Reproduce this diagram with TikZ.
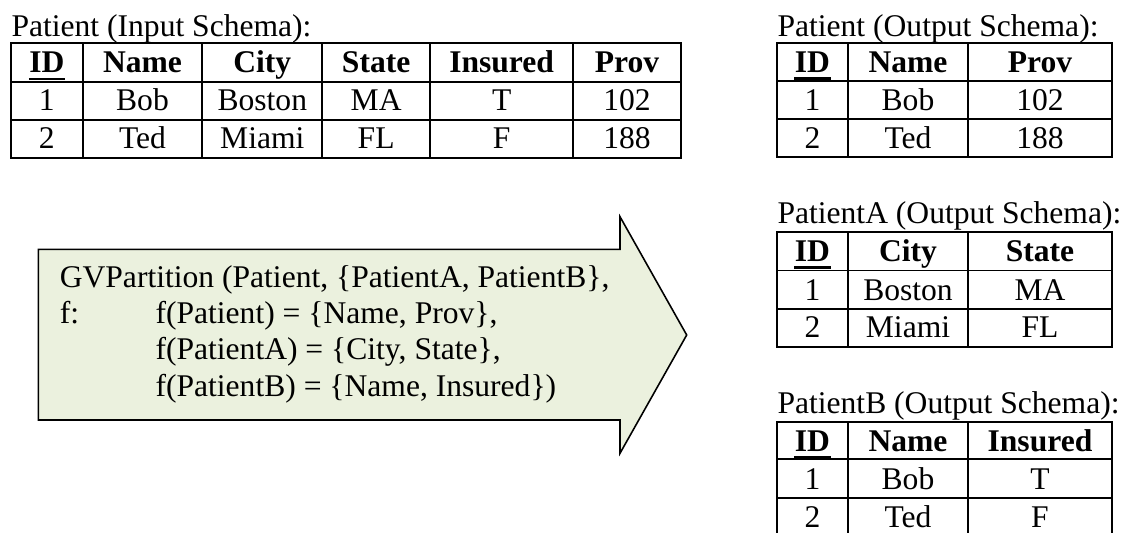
\documentclass[tikz,border=0pt]{standalone}
\usepackage{fontspec}
\setmainfont{Liberation Serif}
\definecolor{boxgreen}{RGB}{235,241,222}
\tikzset{
  tbl/.style={line width=0.75pt},
  cell/.style={anchor=base, inner sep=0pt, font=\fontsize{12}{14}\selectfont},
  head/.style={cell, font=\fontsize{12}{14}\selectfont\bfseries},
  caption/.style={anchor=base west, inner sep=0pt, font=\fontsize{12}{14}\selectfont},
  keyline/.style={line width=1.1pt},
  arrowbox/.style={draw, fill=boxgreen, line width=0.6pt, line join=miter}
}
\begin{document}
\begin{tikzpicture}[x=0.38pt, y=-0.38pt]
  \useasboundingbox (0,0) rectangle (1134,532);
  \node[caption] (inT) at (11,36) {Patient (Input Schema):};
  \draw[tbl] (11,43.3) rectangle (680.7,157.7);
  \draw[tbl] (11,81.7) -- (680.7,81.7);
  \draw[tbl] (11,120) -- (680.7,120);
  \draw[tbl] (82.7,43.3) -- (82.7,157.7);
  \draw[tbl] (202.3,43.3) -- (202.3,157.7);
  \draw[tbl] (322.3,43.3) -- (322.3,157.7);
  \draw[tbl] (430,43.3) -- (430,157.7);
  \draw[tbl] (573.3,43.3) -- (573.3,157.7);
  \node[head] (inH1) at (46.85,72.7) {ID};
  \node[head] (inH2) at (142.5,72.7) {Name};
  \node[head] (inH3) at (262.3,72.7) {City};
  \node[head] (inH4) at (376.15,72.7) {State};
  \node[head] (inH5) at (501.65,72.7) {Insured};
  \node[head] (inH6) at (627,72.7) {Prov};
  \draw[keyline] ([yshift=-2.4pt]inH1.base west) -- ([yshift=-2.4pt]inH1.base east);
  \node[cell] (in11) at (46.85,110) {1};
  \node[cell] (in12) at (142.5,110) {Bob};
  \node[cell] (in13) at (262.3,110) {Boston};
  \node[cell] (in14) at (376.15,110) {MA};
  \node[cell] (in15) at (501.65,110) {T};
  \node[cell] (in16) at (627,110) {102};
  \node[cell] (in21) at (46.85,148) {2};
  \node[cell] (in22) at (142.5,148) {Ted};
  \node[cell] (in23) at (262.3,148) {Miami};
  \node[cell] (in24) at (376.15,148) {FL};
  \node[cell] (in25) at (501.65,148) {F};
  \node[cell] (in26) at (627,148) {188};

  \node[caption] (outT) at (777,36) {Patient (Output Schema):};
  \draw[tbl] (777,43.3) rectangle (1111.7,157.3);
  \draw[tbl] (777,81) -- (1111.7,81);
  \draw[tbl] (777,119.3) -- (1111.7,119.3);
  \draw[tbl] (848,43.3) -- (848,157.3);
  \draw[tbl] (968,43.3) -- (968,157.3);
  \node[head] (outH1) at (812.5,72.5) {ID};
  \node[head] (outH2) at (908,72.5) {Name};
  \node[head] (outH3) at (1040,72.5) {Prov};
  \draw[keyline] ([yshift=-2.4pt]outH1.base west) -- ([yshift=-2.4pt]outH1.base east);
  \node[cell] (out11) at (812.5,110) {1};
  \node[cell] (out12) at (908,110) {Bob};
  \node[cell] (out13) at (1040,110) {102};
  \node[cell] (out21) at (812.5,148) {2};
  \node[cell] (out22) at (908,148) {Ted};
  \node[cell] (out23) at (1040,148) {188};

  \node[caption] (aT) at (777,223.3) {PatientA (Output Schema):};
  \draw[tbl] (777,232.3) rectangle (1111.7,346.7);
  \draw[tbl] (777,270.5) -- (1111.7,270.5);
  \draw[tbl] (777,309) -- (1111.7,309);
  \draw[tbl] (848,232.3) -- (848,346.7);
  \draw[tbl] (968,232.3) -- (968,346.7);
  \node[head] (aH1) at (812.5,261.5) {ID};
  \node[head] (aH2) at (908,261.5) {City};
  \node[head] (aH3) at (1040,261.5) {State};
  \draw[keyline] ([yshift=-2.4pt]aH1.base west) -- ([yshift=-2.4pt]aH1.base east);
  \node[cell] (a11) at (812.5,300) {1};
  \node[cell] (a12) at (908,300) {Boston};
  \node[cell] (a13) at (1040,300) {MA};
  \node[cell] (a21) at (812.5,337.5) {2};
  \node[cell] (a22) at (908,337.5) {Miami};
  \node[cell] (a23) at (1040,337.5) {FL};

  \node[caption] (bT) at (777,413.3) {PatientB (Output Schema):};
  \draw[tbl] (777,422.3) rectangle (1111.7,536);
  \draw[tbl] (777,459) -- (1111.7,459);
  \draw[tbl] (777,498) -- (1111.7,498);
  \draw[tbl] (848,422.3) -- (848,536);
  \draw[tbl] (968,422.3) -- (968,536);
  \node[head] (bH1) at (812.5,451) {ID};
  \node[head] (bH2) at (908,451) {Name};
  \node[head] (bH3) at (1040,451) {Insured};
  \draw[keyline] ([yshift=-2.4pt]bH1.base west) -- ([yshift=-2.4pt]bH1.base east);
  \node[cell] (b11) at (812.5,489.5) {1};
  \node[cell] (b12) at (908,489.5) {Bob};
  \node[cell] (b13) at (1040,489.5) {T};
  \node[cell] (b21) at (812.5,527.5) {2};
  \node[cell] (b22) at (908,527.5) {Ted};
  \node[cell] (b23) at (1040,527.5) {F};

  \draw[arrowbox] (38.3,249.3) -- (620,249.3) -- (620,216.7) -- (686.7,335)
    -- (620,453.3) -- (620,420) -- (38.3,420) -- cycle;
  \node[caption] (gv) at (59.3,287.3) {GVPartition (Patient, \{PatientA, PatientB\},};
  \node[caption] (fl) at (59.3,323.5) {f:};
  \node[caption] (fp) at (155,323.5) {f(Patient) = \{Name, Prov\},};
  \node[caption] (fa) at (155,359.8) {f(PatientA) = \{City, State\},};
  \node[caption] (fb) at (155,396.2) {f(PatientB) = \{Name, Insured\})};
\end{tikzpicture}
\end{document}
